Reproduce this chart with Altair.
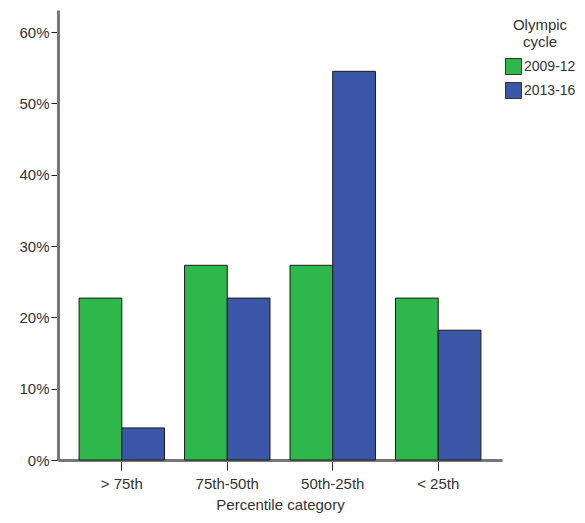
import altair as alt
import pandas as pd

categories = ["> 75th", "75th-50th", "50th-25th", "< 25th"]
cycles = ["2009-12", "2013-16"]
values_2009 = [0.227, 0.273, 0.273, 0.227]
values_2013 = [0.045, 0.227, 0.545, 0.182]

rows = []
for c, a, b in zip(categories, values_2009, values_2013):
    rows.append({"cat": c, "cycle": cycles[0], "pct": a})
    rows.append({"cat": c, "cycle": cycles[1], "pct": b})
df = pd.DataFrame(rows)

FONT = "Liberation Sans"
TXT = "#333333"

chart = alt.Chart(df).mark_bar(stroke="#1a1a1a", strokeWidth=1).encode(
    x=alt.X("cat:N", sort=categories,
            scale=alt.Scale(paddingInner=0.19, paddingOuter=0.2),
            axis=alt.Axis(title="Percentile category", labelAngle=0, tickSize=10,
                          tickColor="#222222", domainColor="#777777", domainWidth=3,
                          labelPadding=6, titlePadding=6)),
    xOffset=alt.XOffset("cycle:N", sort=cycles),
    y=alt.Y("pct:Q", scale=alt.Scale(domain=[0, 0.631], nice=False),
            axis=alt.Axis(title=None, format=".0%", values=[0, 0.1, 0.2, 0.3, 0.4, 0.5, 0.6],
                          tickSize=7, tickColor="#222222", domainColor="#777777",
                          domainWidth=3, labelPadding=2, grid=False)),
    color=alt.Color("cycle:N", sort=cycles,
                    scale=alt.Scale(domain=cycles, range=["#2eb84b", "#3c56a8"]),
                    legend=alt.Legend(title=["Olympic", "cycle"], orient="none",
                                      legendX=447, legendY=8,
                                      titleAnchor="middle", titleAlign="center",
                                      symbolType="square", symbolSize=256,
                                      symbolStrokeColor="#333333", symbolStrokeWidth=1,
                                      labelOffset=2, rowPadding=3, titlePadding=8)),
).properties(
    width=444, height=450,
    autosize="none",
    padding={"left": 50, "top": 2, "right": 75, "bottom": 55},
).configure_view(stroke=None).configure_axis(
    labelFont=FONT, titleFont=FONT, labelFontSize=15, titleFontSize=15,
    labelColor=TXT, titleColor=TXT, titleFontWeight="normal",
).configure_legend(
    labelFont=FONT, titleFont=FONT, labelFontSize=14, titleFontSize=15,
    labelColor=TXT, titleColor=TXT, titleFontWeight="normal",
)

chart.save("out.html", embed_options={"renderer": "svg", "actions": False})
